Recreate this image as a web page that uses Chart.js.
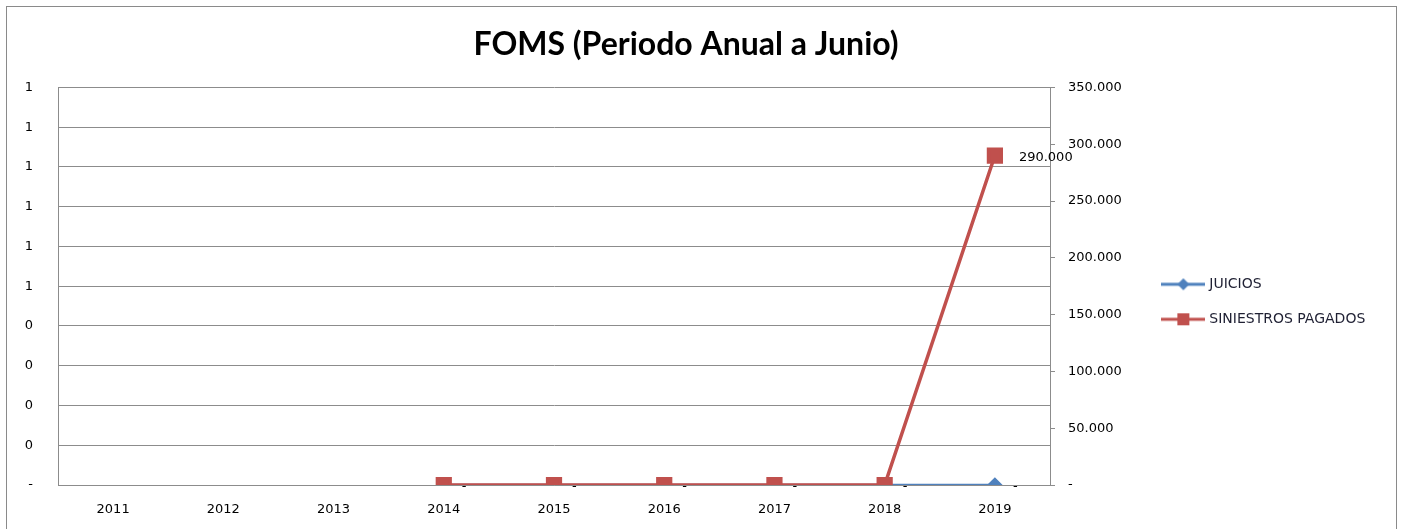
<head>
  <script src="https://cdn.jsdelivr.net/npm/chart.js"></script>
  <style>
    body { margin: 0; background: #fff; }
  </style>
</head>

<div style="width:1403px;height:529px">
  <canvas id="myChart"></canvas>
</div>

<script>
// chart data
const years = ['2011', '2012', '2013', '2014', '2015', '2016', '2017', '2018', '2019']
const juicios = [null, null, null, 0, 0, 0, 0, 0, 0]
const siniestros = [null, null, null, 0, 0, 0, 0, 0, 290000]

const tickFont = { family: 'DejaVu Sans', size: 13 }
const gridColor = '#8c8c8c'
const padRight = 31

// 0 -> "-", else rounded (left axis shows 0 decimals)
function fmtLeft(v) {
  if (Math.abs(v) < 1e-9) return '-'
  return String(Math.round(v))
}

// 0 -> "-", thousands with dots
function fmtRight(v) {
  if (Math.abs(v) < 1e-9) return '-'
  return String(Math.round(v)).replace(/\B(?=(\d{3})+(?!\d))/g, '.')
}

// legend marker: line with point in the middle, like excel
function legendMarker(color, style) {
  const c = document.createElement('canvas')
  c.width = 44
  c.height = 14
  const g = c.getContext('2d')
  g.strokeStyle = color
  g.lineWidth = 3
  g.beginPath()
  g.moveTo(0, 7)
  g.lineTo(44, 7)
  g.stroke()
  g.fillStyle = color
  if (style == 'diamond') {
    g.beginPath()
    g.moveTo(22, 1)
    g.lineTo(28, 7)
    g.lineTo(22, 13)
    g.lineTo(16, 7)
    g.closePath()
    g.fill()
  } else {
    g.fillRect(16, 1, 12, 12)
  }
  return c
}

const markers = [legendMarker('#4f81bd', 'diamond'), legendMarker('#c0504d', 'square')]

// white background + outer frame
const framePlugin = {
  id: 'frame',
  beforeDraw(chart) {
    const ctx = chart.ctx
    ctx.save()
    ctx.fillStyle = '#fff'
    ctx.fillRect(0, 0, chart.width, chart.height)
    ctx.strokeStyle = '#8a8a8a'
    ctx.lineWidth = 1
    ctx.strokeRect(6.5, 6.5, 1390, 600)
    ctx.restore()
  }
}

// data labels next to the points
const labelPlugin = {
  id: 'pointLabels',
  afterDatasetsDraw(chart) {
    const ctx = chart.ctx
    ctx.save()
    ctx.font = '13px "DejaVu Sans"'
    ctx.fillStyle = '#000'
    ctx.textBaseline = 'middle'
    chart.getDatasetMeta(0).data.forEach((pt, i) => {
      if (juicios[i] === null) return
      ctx.fillText(fmtLeft(juicios[i]), pt.x + 18, pt.y + 2)
    })
    chart.getDatasetMeta(1).data.forEach((pt, i) => {
      if (!siniestros[i]) return
      ctx.fillText(fmtRight(siniestros[i]), pt.x + 24, pt.y + 2)
    })
    ctx.restore()
  }
}

const ctx = document.getElementById('myChart')

const datasetChart = new Chart(ctx, {
  type: 'line',
  data: {
    labels: years,
    datasets: [
      {
        label: 'JUICIOS',
        data: juicios,
        yAxisID: 'y',
        borderColor: '#4f81bd',
        backgroundColor: '#4f81bd',
        borderWidth: 2.5,
        pointStyle: 'rectRot',
        pointRadius: 6,
        pointHoverRadius: 6,
        order: 1
      },
      {
        label: 'SINIESTROS PAGADOS',
        data: siniestros,
        yAxisID: 'y2',
        borderColor: '#c0504d',
        backgroundColor: '#c0504d',
        borderWidth: 3.5,
        pointStyle: 'rect',
        pointRadius: 9,
        pointHoverRadius: 9,
        order: 0
      }
    ]
  },
  options: {
    responsive: true,
    maintainAspectRatio: false,
    animation: false,
    layout: { padding: { left: 0, right: padRight, top: 0, bottom: 0 } },
    plugins: {
      tooltip: { enabled: false },
      title: {
        display: true,
        text: 'FOMS (Periodo Anual a Junio)',
        color: '#000',
        font: { family: 'Lato', size: 32, weight: 'bold' },
        padding: { top: 25, bottom: 24 }
      },
      legend: {
        position: 'right',
        align: 'center',
        // blank title only pushes the items down a bit
        title: { display: true, text: ' ', font: { size: 13 }, padding: { top: 30, bottom: 29 } },
        labels: {
          usePointStyle: true,
          pointStyleWidth: 38,
          color: '#1f2033',
          font: { family: 'DejaVu Sans', size: 14 },
          padding: 21,
          sort: (a, b) => a.datasetIndex - b.datasetIndex,
          generateLabels(chart) {
            const items = Chart.defaults.plugins.legend.labels.generateLabels(chart)
            items.forEach(it => { it.pointStyle = markers[it.datasetIndex] })
            return items
          }
        }
      }
    },
    scales: {
      x: {
        offset: true,
        grid: { display: false, drawTicks: false },
        border: { color: gridColor },
        ticks: { color: '#000', font: tickFont, padding: 17, maxRotation: 0 },
        afterFit: s => { s.height = 44 }
      },
      y: {
        position: 'left',
        min: 0,
        max: 1,
        ticks: { stepSize: 0.1, color: '#000', font: tickFont, padding: 25, callback: v => fmtLeft(v) },
        grid: { color: gridColor, drawTicks: false },
        border: { color: gridColor },
        afterFit: s => { s.width = 58 }
      },
      y2: {
        position: 'right',
        min: 0,
        max: 350000,
        ticks: { stepSize: 50000, color: '#000', font: tickFont, padding: 13, callback: v => fmtRight(v) },
        grid: { drawOnChartArea: false, drawTicks: true, tickLength: 5, color: gridColor },
        border: { color: gridColor },
        afterFit: s => {
          const lw = s.chart.legend ? s.chart.legend.width : 0
          s.width = s.chart.width - 1050 - lw - padRight
        }
      }
    }
  },
  plugins: [framePlugin, labelPlugin]
})
</script>
